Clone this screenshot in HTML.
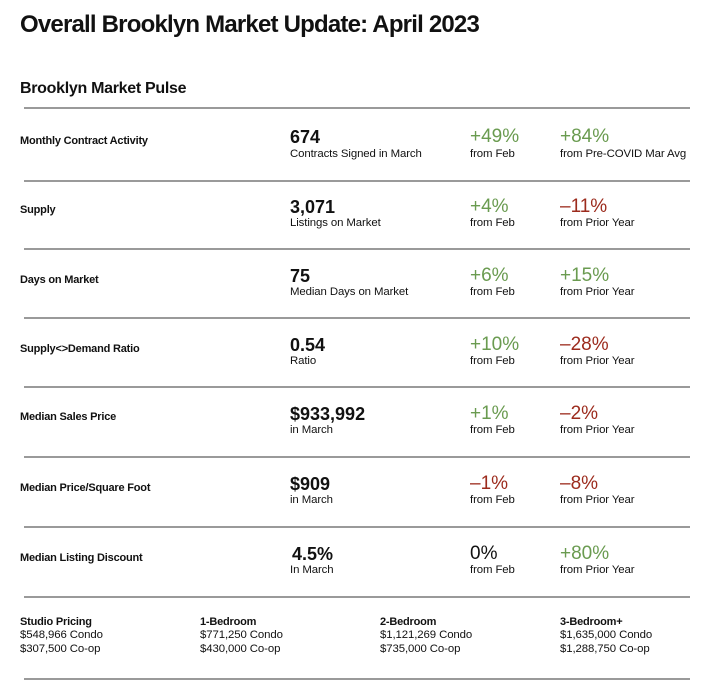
<!DOCTYPE html><html><head><style>
body{margin:0;width:720px;height:697px;background:#fff;font-family:"Liberation Sans",sans-serif;color:#111;position:relative;overflow:hidden}
div{position:absolute;white-space:nowrap}
.hr{left:24px;width:666px;height:2px;background:#9a9a9a}
.lab{font-size:11px;font-weight:bold;letter-spacing:-0.2px}
.big{font-size:18px;font-weight:bold}
.pct{font-size:19px}
.sub{font-size:11.4px;letter-spacing:-0.1px}
.g{color:#6a9b50}.r{color:#9c2b1d}
</style></head><body>
<div style="left:20px;top:11px;font-size:24px;font-weight:bold;letter-spacing:-0.8px">Overall Brooklyn Market Update: April 2023</div>
<div style="left:20px;top:80px;font-size:16px;font-weight:bold;letter-spacing:-0.3px">Brooklyn Market Pulse</div>
<div class="hr" style="top:107px"></div>
<div class="hr" style="top:180px"></div>
<div class="hr" style="top:248px"></div>
<div class="hr" style="top:317px"></div>
<div class="hr" style="top:386px"></div>
<div class="hr" style="top:456px"></div>
<div class="hr" style="top:526px"></div>
<div class="hr" style="top:596px"></div>
<div class="hr" style="top:678px"></div>

<div class="lab" style="left:20px;top:135px">Monthly Contract Activity</div>
<div class="big" style="left:290px;top:127px">674</div><div class="sub" style="left:290px;top:148px">Contracts Signed in March</div>
<div class="pct g" style="left:470px;top:126px">+49%</div><div class="sub" style="left:470px;top:148px">from Feb</div>
<div class="pct g" style="left:560px;top:126px">+84%</div><div class="sub" style="left:560px;top:148px">from Pre-COVID Mar Avg</div>

<div class="lab" style="left:20px;top:204px">Supply</div>
<div class="big" style="left:290px;top:197px">3,071</div><div class="sub" style="left:290px;top:217px">Listings on Market</div>
<div class="pct g" style="left:470px;top:196px">+4%</div><div class="sub" style="left:470px;top:217px">from Feb</div>
<div class="pct r" style="left:560px;top:196px">–11%</div><div class="sub" style="left:560px;top:217px">from Prior Year</div>

<div class="lab" style="left:20px;top:274px">Days on Market</div>
<div class="big" style="left:290px;top:266px">75</div><div class="sub" style="left:290px;top:286px">Median Days on Market</div>
<div class="pct g" style="left:470px;top:265px">+6%</div><div class="sub" style="left:470px;top:286px">from Feb</div>
<div class="pct g" style="left:560px;top:265px">+15%</div><div class="sub" style="left:560px;top:286px">from Prior Year</div>

<div class="lab" style="left:20px;top:343px">Supply&lt;&gt;Demand Ratio</div>
<div class="big" style="left:290px;top:335px">0.54</div><div class="sub" style="left:290px;top:355px">Ratio</div>
<div class="pct g" style="left:470px;top:334px">+10%</div><div class="sub" style="left:470px;top:355px">from Feb</div>
<div class="pct r" style="left:560px;top:334px">–28%</div><div class="sub" style="left:560px;top:355px">from Prior Year</div>

<div class="lab" style="left:20px;top:411px">Median Sales Price</div>
<div class="big" style="left:290px;top:404px">$933,992</div><div class="sub" style="left:290px;top:424px">in March</div>
<div class="pct g" style="left:470px;top:403px">+1%</div><div class="sub" style="left:470px;top:424px">from Feb</div>
<div class="pct r" style="left:560px;top:403px">–2%</div><div class="sub" style="left:560px;top:424px">from Prior Year</div>

<div class="lab" style="left:20px;top:482px">Median Price/Square Foot</div>
<div class="big" style="left:290px;top:474px">$909</div><div class="sub" style="left:290px;top:494px">in March</div>
<div class="pct r" style="left:470px;top:473px">–1%</div><div class="sub" style="left:470px;top:494px">from Feb</div>
<div class="pct r" style="left:560px;top:473px">–8%</div><div class="sub" style="left:560px;top:494px">from Prior Year</div>

<div class="lab" style="left:20px;top:552px">Median Listing Discount</div>
<div class="big" style="left:292px;top:544px">4.5%</div><div class="sub" style="left:290px;top:564px">In March</div>
<div class="pct" style="left:470px;top:543px">0%</div><div class="sub" style="left:470px;top:564px">from Feb</div>
<div class="pct g" style="left:560px;top:543px">+80%</div><div class="sub" style="left:560px;top:564px">from Prior Year</div>

<div class="lab" style="left:20px;top:616px">Studio Pricing</div>
<div class="sub" style="left:20px;top:629px">$548,966 Condo</div><div class="sub" style="left:20px;top:643px">$307,500 Co-op</div>
<div class="lab" style="left:200px;top:616px">1-Bedroom</div>
<div class="sub" style="left:200px;top:629px">$771,250 Condo</div><div class="sub" style="left:200px;top:643px">$430,000 Co-op</div>
<div class="lab" style="left:380px;top:616px">2-Bedroom</div>
<div class="sub" style="left:380px;top:629px">$1,121,269 Condo</div><div class="sub" style="left:380px;top:643px">$735,000 Co-op</div>
<div class="lab" style="left:560px;top:616px">3-Bedroom+</div>
<div class="sub" style="left:560px;top:629px">$1,635,000 Condo</div><div class="sub" style="left:560px;top:643px">$1,288,750 Co-op</div>
</body></html>
